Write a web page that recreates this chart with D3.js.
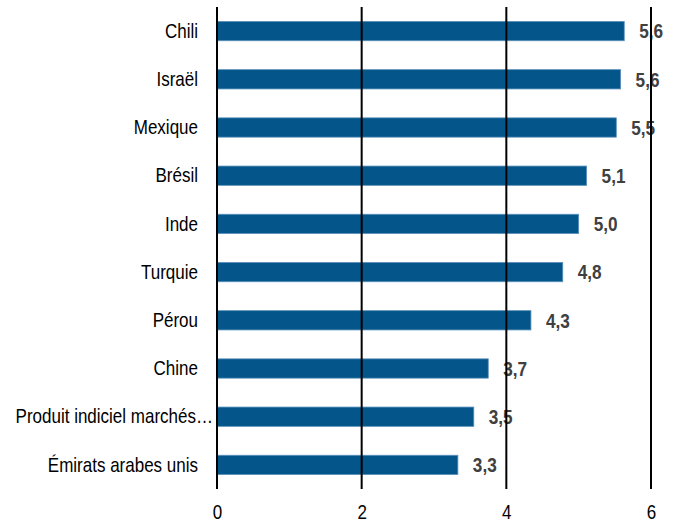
<!DOCTYPE html>
<html>
<head>
<meta charset="utf-8">
<script src="https://cdn.jsdelivr.net/npm/d3@7.9.0/dist/d3.min.js"></script>
<style>
  body { margin: 0; background: #fff; }
  text { font-family: "Liberation Sans", Arial, sans-serif; }
</style>
</head>
<body>
<div id="chart"></div>
<script>
const countries = ['Chili', 'Israël', 'Mexique', 'Brésil', 'Inde', 'Turquie', 'Pérou', 'Chine',
  'Produit indiciel marchés…', 'Émirats arabes unis'];
const values = [5.63, 5.58, 5.52, 5.11, 5.00, 4.78, 4.34, 3.75, 3.55, 3.33];
const valueLabels = ['5,6', '5,6', '5,5', '5,1', '5,0', '4,8', '4,3', '3,7', '3,5', '3,3'];
const xTicks = [0, 2, 4, 6];

const width = 681;
const height = 524;
const margin = { top: 7, right: 30, bottom: 35, left: 217 };
// the original uses a narrow face; squeeze the regular one horizontally
const narrow = 0.81;

const data = countries.map((c, i) => ({ country: c, value: values[i], label: valueLabels[i] }));

const svg = d3.select('#chart')
  .append('svg')
  .attr('width', width)
  .attr('height', height);

const xScale = d3.scaleLinear()
  .domain([0, 6])
  .range([margin.left, 651]);

const yScale = d3.scaleBand()
  .domain(countries)
  .range([margin.top, height - margin.bottom])
  .paddingInner(0.6)
  .paddingOuter(0.3);

// bars
svg.append('g')
  .selectAll('rect')
  .data(data)
  .join('rect')
  .attr('x', xScale(0))
  .attr('y', (d) => yScale(d.country))
  .attr('width', (d) => xScale(d.value) - xScale(0))
  .attr('height', yScale.bandwidth())
  .attr('fill', '#03558a')
  .attr('stroke', '#5a90bb')
  .attr('stroke-width', 0.8);

// value labels
svg.append('g')
  .selectAll('text')
  .data(data)
  .join('text')
  .attr('transform', (d) =>
    `translate(${xScale(d.value) + 15}, ${yScale(d.country) + yScale.bandwidth() / 2}) scale(0.86, 1)`)
  .attr('dy', '0.36em')
  .attr('fill', '#404040')
  .attr('font-weight', 'bold')
  .style('font-size', '20px')
  .text((d) => d.label);

// vertical gridlines (drawn over the labels, as in the original)
svg.append('g')
  .selectAll('line')
  .data(xTicks)
  .join('line')
  .attr('x1', (d) => xScale(d))
  .attr('x2', (d) => xScale(d))
  .attr('y1', margin.top)
  .attr('y2', height - margin.bottom)
  .attr('stroke', '#000')
  .attr('stroke-width', 2);

// category axis; the truncated label sits closer to the axis
const yAxis = svg.append('g')
  .attr('transform', `translate(${margin.left}, 0)`)
  .call(d3.axisLeft(yScale).tickSize(0));
yAxis.select('.domain').remove();
yAxis.selectAll('text')
  .attr('x', null)
  .attr('transform', (d) => `translate(${d.endsWith('…') ? -4 : -19}, 0) scale(${narrow}, 1)`)
  .attr('fill', '#000')
  .style('font-size', '21px');

// value axis
const xAxis = svg.append('g')
  .attr('transform', `translate(0, ${height - margin.bottom})`)
  .call(d3.axisBottom(xScale).tickValues(xTicks).tickSize(0).tickFormat(d3.format('d')));
xAxis.select('.domain').remove();
xAxis.selectAll('text')
  .attr('y', null)
  .attr('dy', null)
  .attr('transform', `translate(0, 30) scale(${narrow}, 1)`)
  .attr('fill', '#000')
  .style('font-size', '21px');
</script>
</body>
</html>
